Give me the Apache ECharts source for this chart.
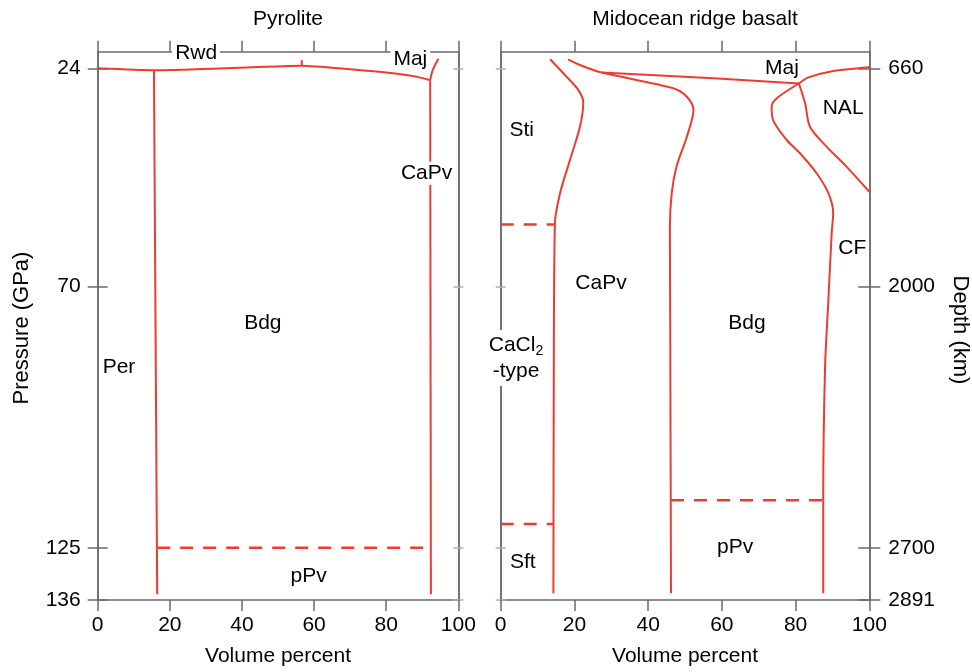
<!DOCTYPE html>
<html>
<head>
<meta charset="utf-8">
<script src="https://cdn.jsdelivr.net/npm/echarts@6/dist/echarts.min.js"></script>
<style>
  html, body { margin: 0; padding: 0; background: #fff; }
  #chart { width: 972px; height: 672px; }
</style>
</head>
<body>
<div id="chart"></div>
<script>
// pressure ticks (GPa) and matching depth labels (km)
const pressureTicks = [24, 70, 125, 136];
const depthLabels = ['660', '2000', '2700', '2891'];

// Pyrolite boundaries: [volume %, pressure GPa]
const pyrTop = [[0, 24], [15.6, 24.4], [35, 24.0], [56.6, 23.45], [70, 24.2], [80, 24.9], [88, 25.7], [92.2, 26.5]];
const pyrTopNotch = [[56.6, 23.45], [56.6, 22.3]];
const pyrMaj = [[92.2, 26.5], [92.9, 24.4], [94.5, 22.0]];
const pyrPerBdg = [[15.6, 24.4], [16.5, 134.8]];
const pyrBdgCaPv = [[92.2, 26.5], [92.4, 134.8]];
const pyrPpvDash = [[16.5, 125], [92.4, 125]];

// MORB boundaries
const morbStiCaPv = [[13.4, 22.1], [17.9, 25.8], [21.1, 28.6], [22.4, 31.2], [21.5, 36.3], [18.8, 43.3], [16.1, 50.3], [14.7, 56.7], [14.4, 90], [14.3, 134.6]];
const morbCaPvBdg = [[18.3, 22.1], [21.5, 23.3], [27.4, 24.9], [46.8, 28.2], [50.5, 30.0], [52.3, 32.8], [50.5, 38.4], [47.7, 44.7], [46.4, 50.3], [45.9, 57.4], [46.0, 80], [46.2, 134.6]];
const morbMajBase = [[27.4, 24.9], [57.7, 26.1], [80.9, 27.2]];
const morbMajTop = [[80.9, 27.2], [83.5, 25.9], [89.3, 24.7], [100, 23.8]];
const morbBdgCF = [[80.9, 27.2], [74.9, 30.3], [73.5, 32.1], [73.9, 34.9], [77.6, 39.1], [81.2, 41.9], [85.7, 46.1], [88.9, 50.3], [90.2, 54.5], [89.8, 58.7], [88.9, 72.8], [88.0, 86.9], [87.5, 115], [87.5, 134.6]];
const morbCFNAL = [[80.9, 27.2], [82.6, 31.4], [83.9, 36.3], [88.4, 40.5], [93.8, 44.7], [100, 50.0]];
const morbStiDash = [[0, 56.9], [14.7, 56.9]];
const morbSftDash = [[0, 120.0], [14.3, 120.0]];
const morbPpvDash = [[46.2, 115.0], [87.5, 115.0]];

// phase names: [volume %, pressure, text]
const pyrLabels = [[5.9, 86.9, 'Per'], [45.8, 77.6, 'Bdg'], [58.5, 131.0, 'pPv']];
const pyrFrameLabels = [[27.3, 20.8, 'Rwd'], [86.7, 22.0, 'Maj'], [91.2, 46.1, 'CaPv']];
const morbLabels = [[76.3, 24.0, 'Maj'], [92.9, 32.4, 'NAL'], [5.7, 37.0, 'Sti'], [95.4, 61.9, 'CF'],
  [27.2, 69.2, 'CaPv'], [66.8, 77.6, 'Bdg'], [63.6, 124.8, 'pPv'], [6.0, 128.0, 'Sft']];
const morbTypeLabel = [[4.15, 85.0, 'CaCl2-type']];

const RED = '#ef3b2f';
const AXIS = '#6a6a6a';
const LIGHT = '#b0b0b0';
const INK = '#000';
const FONT = "'Liberation Sans', Arial, sans-serif";
const FS = 21;

const chart = echarts.init(document.getElementById('chart'));

const grids = [
  { left: 97.7, width: 360.6, top: 51.7, height: 548.3 },
  { left: 500.7, width: 368.6, top: 51.7, height: 548.3 }
];

function xAx(g, pos) {
  const bottom = pos === 'bottom';
  return {
    type: 'value', gridIndex: g, position: pos, min: 0, max: 100, interval: 20,
    axisLine: { show: true, lineStyle: { color: AXIS, width: 1.5 } },
    axisTick: { show: true, inside: false, length: 11, lineStyle: { color: AXIS, width: 1.5 } },
    axisLabel: { show: bottom, fontSize: FS, color: INK, fontFamily: FONT, margin: 15 },
    splitLine: { show: false },
    name: bottom ? 'Volume percent' : '',
    nameLocation: 'middle', nameGap: 46,
    nameTextStyle: { fontSize: FS, color: INK, fontFamily: FONT }
  };
}

function yAx(g, pos, inside, len, color, labels) {
  return {
    type: 'value', gridIndex: g, position: pos, inverse: true, min: 20.5, max: 136,
    axisLine: { show: true, lineStyle: { color: AXIS, width: 1.5 } },
    axisTick: { show: true, inside: inside, length: len, customValues: pressureTicks, lineStyle: { color: color, width: 1.5 } },
    axisLabel: {
      show: !!labels, customValues: pressureTicks, fontSize: FS, color: INK, fontFamily: FONT,
      margin: labels === 'depth' ? 19 : 17,
      formatter: v => labels === 'depth' ? depthLabels[pressureTicks.indexOf(v)] : String(v)
    },
    splitLine: { show: false }
  };
}

function boundary(data, g, dashed, smooth) {
  return {
    type: 'line', data: data, xAxisIndex: g * 2, yAxisIndex: g * 4,
    symbol: 'none', smooth: smooth || 0, silent: true, z: 3,
    lineStyle: { color: RED, width: dashed ? 2.5 : 2, type: dashed ? [13, 10] : 'solid' }
  };
}

function names(data, g, bg) {
  return {
    type: 'scatter', xAxisIndex: g * 2, yAxisIndex: g * 4, symbolSize: 0, silent: true, z: 5,
    itemStyle: { opacity: 1 },
    data: data,
    label: {
      show: true, position: 'inside', formatter: p => p.data[2],
      fontSize: FS, color: INK, fontFamily: FONT,
      backgroundColor: bg ? '#fff' : 'transparent', padding: bg ? [1, 3] : 0
    }
  };
}

const titleStyle = { fontSize: FS, fontWeight: 'normal', color: INK, fontFamily: FONT };
const sideStyle = { fontSize: 22, fontFamily: FONT, fill: INK, align: 'center', verticalAlign: 'middle', textAlign: 'center', textVerticalAlign: 'middle' };

const option = {
  animation: false,
  backgroundColor: '#fff',
  title: [
    { text: 'Pyrolite', left: 283, top: 4, textAlign: 'center', textStyle: titleStyle },
    { text: 'Midocean ridge basalt', left: 690, top: 4, textAlign: 'center', textStyle: titleStyle }
  ],
  graphic: [
    { type: 'text', x: 22, y: 328, rotation: Math.PI / 2, style: Object.assign({ text: 'Pressure (GPa)' }, sideStyle) },
    { type: 'text', x: 960, y: 330, rotation: -Math.PI / 2, style: Object.assign({ text: 'Depth (km)' }, sideStyle) }
  ],
  grid: grids,
  xAxis: [xAx(0, 'bottom'), xAx(0, 'top'), xAx(1, 'bottom'), xAx(1, 'top')],
  yAxis: [
    yAx(0, 'left', false, 10, AXIS, 'pressure'), yAx(0, 'left', true, 10, AXIS, null),
    yAx(0, 'right', false, 5, LIGHT, null), yAx(0, 'right', true, 5, LIGHT, null),
    yAx(1, 'left', false, 5, LIGHT, null), yAx(1, 'left', true, 5, LIGHT, null),
    yAx(1, 'right', false, 11, AXIS, 'depth'), yAx(1, 'right', true, 11, AXIS, null)
  ],
  series: [
    boundary(pyrTop, 0, false, 0.2),
    boundary(pyrTopNotch, 0),
    boundary(pyrMaj, 0, false, 0.4),
    boundary(pyrPerBdg, 0),
    boundary(pyrBdgCaPv, 0),
    boundary(pyrPpvDash, 0, true),
    boundary(morbStiCaPv, 1, false, 0.3),
    boundary(morbCaPvBdg, 1, false, 0.3),
    boundary(morbMajBase, 1, false, 0.2),
    boundary(morbMajTop, 1, false, 0.3),
    boundary(morbBdgCF, 1, false, 0.3),
    boundary(morbCFNAL, 1, false, 0.3),
    boundary(morbStiDash, 1, true),
    boundary(morbSftDash, 1, true),
    boundary(morbPpvDash, 1, true),
    names(pyrLabels, 0, false),
    names(pyrFrameLabels, 0, true),
    names(morbLabels, 1, false),
    {
      type: 'scatter', xAxisIndex: 2, yAxisIndex: 4, symbolSize: 0, silent: true, z: 5,
      itemStyle: { opacity: 1 },
      data: morbTypeLabel,
      label: {
        show: true, position: 'inside', backgroundColor: '#fff', padding: [2, 2],
        formatter: '{a|CaCl}{s|2}\n{a|-type}',
        rich: {
          a: { fontSize: FS, lineHeight: 26, color: INK, fontFamily: FONT },
          s: { fontSize: 14, lineHeight: 26, color: INK, fontFamily: FONT, verticalAlign: 'bottom' }
        }
      }
    }
  ]
};

chart.setOption(option);
window.addEventListener('resize', () => chart.resize());
</script>
</body>
</html>
